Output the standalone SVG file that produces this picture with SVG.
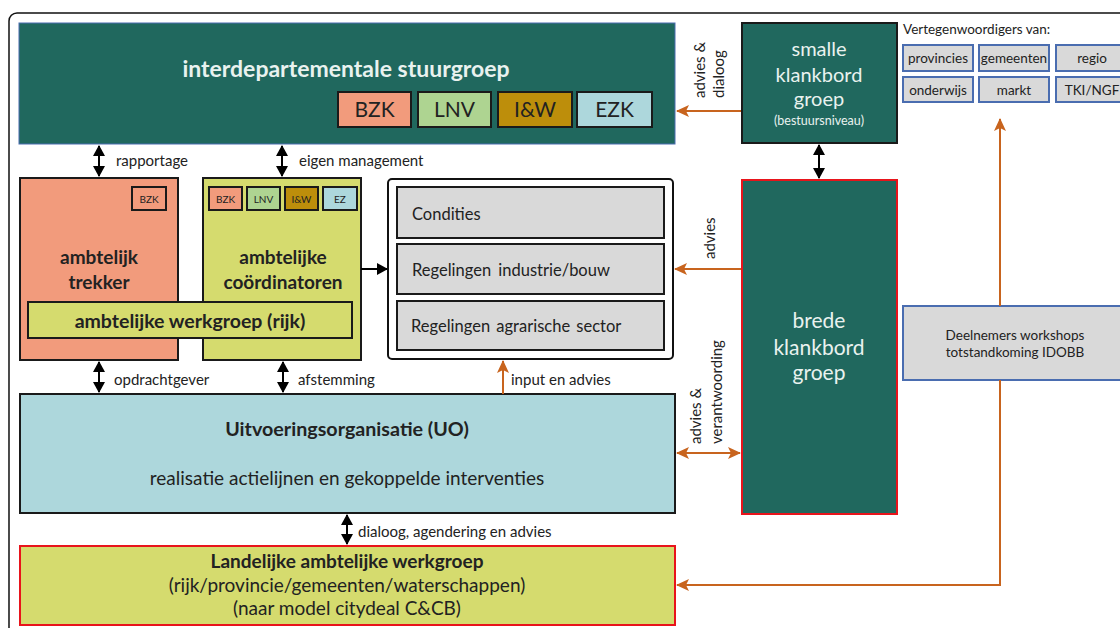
<svg xmlns="http://www.w3.org/2000/svg" width="1120" height="628" viewBox="0 0 1120 628">
<defs>
<marker id="ab" markerWidth="12" markerHeight="12" refX="10" refY="6" orient="auto-start-reverse" markerUnits="userSpaceOnUse"><path d="M0,0 L11,6 L0,12 Z" fill="#000"/></marker>
<marker id="ao" markerWidth="14" markerHeight="12" refX="12" refY="6" orient="auto-start-reverse" markerUnits="userSpaceOnUse"><path d="M0,0 L13,6 L0,12 L3,6 Z" fill="#C8641E"/></marker>
<style>
text{font-family:Lato,"Open Sans","Liberation Sans",sans-serif;fill:#222}
.w{fill:#E9F2EF}
.b{font-weight:bold}
.teal{fill:#20685E}
.k{stroke:#1a1a1a;stroke-width:2}
.red{stroke:#E8141B;stroke-width:2}
.blu{stroke:#4A6DB0;stroke-width:2;fill:#D9D9D9}
.salmon{fill:#F29B7C}
.lnv{fill:#AED491}
.iw{fill:#BD8E0B}
.ezk{fill:#ADD7DC}
.yg{fill:#D5DB6E}
.gray{fill:#D9D9D9}
.c{text-anchor:middle}
.bl{stroke:#000;stroke-width:2;fill:none}
.or{stroke:#C8641E;stroke-width:2;fill:none}
</style>
</defs>
<rect x="9" y="13" width="1140" height="640" rx="8" fill="#fff" stroke="#111" stroke-width="1.5"/>

<g id="stuurgroep">
<rect x="19" y="23" width="656" height="121" class="teal" stroke="#4A6DB0" stroke-width="1"/>
<text x="346" y="77" class="w b c" font-size="23">interdepartementale stuurgroep</text>
<rect x="338" y="92" width="73" height="35" class="salmon k"/>
<text x="374.5" y="117" class="c" font-size="21">BZK</text>
<rect x="418" y="92" width="73" height="35" class="lnv k"/>
<text x="454.5" y="117" class="c" font-size="21">LNV</text>
<rect x="498" y="92" width="74" height="35" class="iw k"/>
<text x="535" y="117" class="c" font-size="21">I&amp;W</text>
<rect x="577" y="92" width="75" height="35" class="ezk k"/>
<text x="614.5" y="117" class="c" font-size="21">EZK</text>
</g>

<g id="smalle">
<rect x="742" y="23" width="155" height="120" class="teal k"/>
<text x="819" y="56" class="w c" font-size="20">smalle</text>
<text x="819" y="82" class="w c" font-size="20">klankbord</text>
<text x="819" y="106" class="w c" font-size="20">groep</text>
<text x="819" y="125" class="w c" font-size="12.5">(bestuursniveau)</text>
</g>

<g id="vertegenwoordigers">
<text x="903" y="34" font-size="13.5">Vertegenwoordigers van:</text>
<rect x="903" y="45" width="70" height="26" class="blu"/>
<text x="938" y="63" class="c" font-size="13.5">provincies</text>
<rect x="979" y="45" width="70" height="26" class="blu"/>
<text x="1014" y="63" class="c" font-size="13.5">gemeenten</text>
<rect x="1056" y="45" width="72" height="26" class="blu"/>
<text x="1092" y="63" class="c" font-size="13.5">regio</text>
<rect x="903" y="77" width="70" height="25" class="blu"/>
<text x="938" y="95" class="c" font-size="13.5">onderwijs</text>
<rect x="979" y="77" width="70" height="25" class="blu"/>
<text x="1014" y="95" class="c" font-size="13.5">markt</text>
<rect x="1056" y="77" width="72" height="25" class="blu"/>
<text x="1092" y="95" class="c" font-size="13.5">TKI/NGF</text>
</g>

<g id="trekker">
<rect x="20" y="178" width="158" height="182" class="salmon k"/>
<rect x="132" y="187" width="34" height="23" class="salmon k"/>
<text x="149" y="203" class="c" font-size="10">BZK</text>
<text x="99" y="264" class="b c" font-size="19">ambtelijk</text>
<text x="99" y="289" class="b c" font-size="19">trekker</text>
</g>

<g id="coordinatoren">
<rect x="203" y="178" width="158" height="182" class="yg k"/>
<rect x="209" y="187" width="33" height="23" class="salmon k"/>
<text x="225.5" y="203" class="c" font-size="10">BZK</text>
<rect x="247" y="187" width="33" height="23" class="lnv k"/>
<text x="263.5" y="203" class="c" font-size="10">LNV</text>
<rect x="285" y="187" width="33" height="23" class="iw k"/>
<text x="301.5" y="203" class="c" font-size="10">I&amp;W</text>
<rect x="323" y="187" width="34" height="23" class="ezk k"/>
<text x="340" y="203" class="c" font-size="10">EZ</text>
<text x="283" y="264" class="b c" font-size="19">ambtelijke</text>
<text x="283" y="289" class="b c" font-size="19">coördinatoren</text>
</g>

<g id="werkgroep-rijk">
<rect x="28" y="302" width="324" height="36" class="yg k"/>
<text x="190" y="328" class="b c" font-size="19.5">ambtelijke werkgroep (rijk)</text>
</g>

<g id="regelingen">
<rect x="388" y="179" width="285" height="180" rx="4" fill="#fff" stroke="#111" stroke-width="2"/>
<rect x="397" y="187" width="267" height="51" class="gray k"/>
<text x="412" y="220" font-size="16.5">Condities</text>
<rect x="397" y="244" width="267" height="50" class="gray k"/>
<text x="412" y="276" font-size="16.5" word-spacing="3">Regelingen industrie/bouw</text>
<rect x="397" y="301" width="267" height="49" class="gray k"/>
<text x="411" y="332" font-size="16.5" word-spacing="2">Regelingen agrarische sector</text>
</g>

<g id="brede">
<rect x="742" y="180" width="155" height="334" class="teal red"/>
<text x="819" y="328" class="w c" font-size="21">brede</text>
<text x="819" y="355" class="w c" font-size="21">klankbord</text>
<text x="819" y="380" class="w c" font-size="21">groep</text>
</g>

<g id="deelnemers">
<rect x="903" y="306" width="230" height="74" class="blu"/>
<text x="1015" y="340" class="c" font-size="13.5" fill="#333">Deelnemers workshops</text>
<text x="1015" y="357" class="c" font-size="13.5" fill="#333">totstandkoming IDOBB</text>
</g>

<g id="uo">
<rect x="20" y="394" width="655" height="119" class="ezk k"/>
<text x="347" y="436" class="b c" font-size="19.7">Uitvoeringsorganisatie (UO)</text>
<text x="347" y="485" class="c" font-size="19">realisatie actielijnen en gekoppelde interventies</text>
</g>

<g id="landelijke">
<rect x="20" y="546" width="655" height="79" class="yg red"/>
<text x="347" y="568" class="b c" font-size="19">Landelijke ambtelijke werkgroep</text>
<text x="347" y="592" class="c" font-size="19">(rijk/provincie/gemeenten/waterschappen)</text>
<text x="347" y="615" class="c" font-size="19">(naar model citydeal C&amp;CB)</text>
</g>

<g id="connectors">
<line x1="99" y1="146" x2="99" y2="176" class="bl" marker-start="url(#ab)" marker-end="url(#ab)"/>
<line x1="282" y1="146" x2="282" y2="176" class="bl" marker-start="url(#ab)" marker-end="url(#ab)"/>
<line x1="819" y1="145" x2="819" y2="178" class="bl" marker-start="url(#ab)" marker-end="url(#ab)"/>
<line x1="99" y1="362" x2="99" y2="392" class="bl" marker-start="url(#ab)" marker-end="url(#ab)"/>
<line x1="283" y1="362" x2="283" y2="392" class="bl" marker-start="url(#ab)" marker-end="url(#ab)"/>
<line x1="347" y1="515" x2="347" y2="544" class="bl" marker-start="url(#ab)" marker-end="url(#ab)"/>
<line x1="361" y1="269" x2="387" y2="269" class="bl" marker-end="url(#ab)"/>
<line x1="741" y1="111" x2="677" y2="111" class="or" marker-end="url(#ao)"/>
<line x1="741" y1="269" x2="675" y2="269" class="or" marker-end="url(#ao)"/>
<line x1="503" y1="394" x2="503" y2="361" class="or" marker-end="url(#ao)"/>
<line x1="677" y1="453" x2="740" y2="453" class="or" marker-start="url(#ao)" marker-end="url(#ao)"/>
<line x1="1000" y1="306" x2="1000" y2="119" class="or" marker-end="url(#ao)"/>
<polyline points="1000,380 1000,585 677,585" class="or" marker-end="url(#ao)"/>
<text x="116" y="166" font-size="15">rapportage</text>
<text x="299" y="166" font-size="15">eigen management</text>
<text x="114" y="385" font-size="15">opdrachtgever</text>
<text x="298" y="385" font-size="15">afstemming</text>
<text x="511" y="385" font-size="15">input en advies</text>
<text x="358" y="537" font-size="15">dialoog, agendering en advies</text>
<text transform="translate(705,98) rotate(-90)" font-size="15">advies &amp;</text>
<text transform="translate(724,98) rotate(-90)" font-size="15">dialoog</text>
<text transform="translate(715,259) rotate(-90)" font-size="15">advies</text>
<text transform="translate(701,444) rotate(-90)" font-size="15">advies &amp;</text>
<text transform="translate(722,444) rotate(-90)" font-size="15">verantwoording</text>
</g>
</svg>
